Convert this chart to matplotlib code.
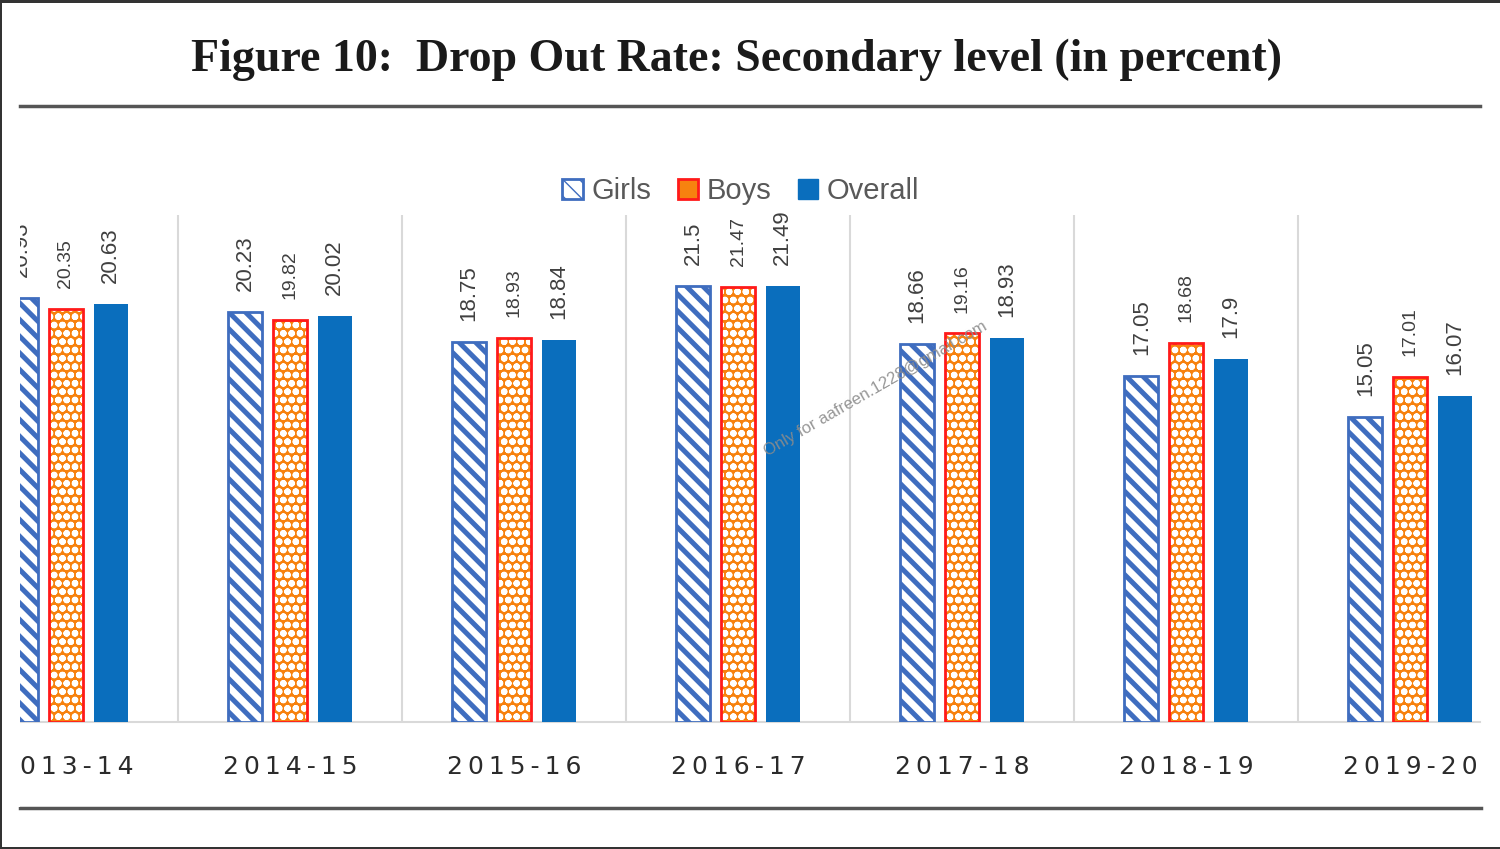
import matplotlib as mpl
import matplotlib.pyplot as plt
from matplotlib.patches import Patch, Rectangle
from matplotlib.lines import Line2D
import numpy as np

years = ['2013-14', '2014-15', '2015-16', '2016-17', '2017-18', '2018-19', '2019-20']
girls = [20.93, 20.23, 18.75, 21.5, 18.66, 17.05, 15.05]
boys = [20.35, 19.82, 18.93, 21.47, 19.16, 18.68, 17.01]
overall = [20.63, 20.02, 18.84, 21.49, 18.93, 17.9, 16.07]

blue_hatch = '#3F6DBF'
orange = '#F7820F'
red = '#FF1A1A'
blue = '#0A6EBD'

fig = plt.figure(figsize=(15, 8.49), dpi=100)
ax = fig.add_axes([20 / 1500, 1 - 722 / 849, 1460 / 1500, 507 / 849])

x = np.arange(len(years))
w = 0.152
off = 0.2

with mpl.rc_context({'hatch.linewidth': 3.6}):
    g = ax.bar(x - off, girls, w, facecolor='white', edgecolor=blue_hatch,
               hatch='\\\\', linewidth=2, zorder=3)
with mpl.rc_context({'hatch.linewidth': 2.3}):
    ax.bar(x, boys, w, facecolor=orange, edgecolor='white', hatch='oo',
           linewidth=0, zorder=3)
b = ax.bar(x, boys, w, facecolor='none', edgecolor=red, linewidth=2, zorder=4)
o = ax.bar(x + off, overall, w, color=blue, zorder=3)

lab_kw = dict(rotation=90, color='#404040', family='Liberation Sans')
ax.bar_label(g, labels=['{:g}'.format(v) for v in girls], padding=15, fontsize=16, **lab_kw)
ax.bar_label(b, labels=['{:g}'.format(v) for v in boys], padding=15, fontsize=14, **lab_kw)
ax.bar_label(o, labels=['{:g}'.format(v) for v in overall], padding=15, fontsize=16, **lab_kw)

ax.set_xlim(-0.205, 6.312)
ax.set_ylim(0, 25)
ax.set_yticks([])
ax.set_xticks(x)
ax.set_xticklabels(['\u2009'.join(y) for y in years], fontsize=18, color='#2B2B2B',
                   family='DejaVu Sans')
ax.tick_params(axis='x', length=0, pad=24)
ax.set_xticks(x[:-1] + 0.5, minor=True)
ax.tick_params(axis='x', which='minor', length=0)
ax.grid(axis='x', which='minor', color='#D9D9D9', linewidth=1.5, zorder=0)
for s in ['top', 'left', 'right']:
    ax.spines[s].set_visible(False)
ax.spines['bottom'].set_color('#D9D9D9')
ax.spines['bottom'].set_linewidth(1.5)

handles = [Patch(facecolor='white', edgecolor=blue_hatch, hatch='\\\\', linewidth=2),
           Patch(facecolor=orange, edgecolor=red, linewidth=2),
           Patch(facecolor=blue, edgecolor=blue)]
fig.legend(handles, ['Girls', 'Boys', 'Overall'], loc='center', ncol=3,
           bbox_to_anchor=(0.494, 1 - 191 / 849), frameon=False,
           handlelength=0.7, handleheight=0.7, handletextpad=0.3, columnspacing=0.9,
           labelcolor='#595959', prop={'family': 'Liberation Sans', 'size': 21})

fig.text(0.491, 1 - 60 / 849, 'Figure 10:  Drop Out Rate: Secondary level (in percent)',
         ha='center', va='center', fontsize=33, fontweight='bold',
         family='Liberation Serif', color='#1A1A1A')

fig.text(0.584, 1 - 389 / 849, 'Only for aafreen.1228@gmail.com', rotation=30,
         ha='center', va='center', fontsize=12, color='#8C8C8C', alpha=0.9,
         family='Liberation Sans', zorder=10)

# rules above and below the chart
fig.add_artist(Line2D([20 / 1500, 1480 / 1500], [1 - 106 / 849] * 2,
                      color='#555555', linewidth=2.5, transform=fig.transFigure))
fig.add_artist(Line2D([20 / 1500, 1481 / 1500], [1 - 808 / 849] * 2,
                      color='#555555', linewidth=2.5, transform=fig.transFigure))

# cropped left margin of the scan
fig.add_artist(Rectangle((2 / 1500, 0.05), 18 / 1500, 0.8, facecolor='white',
                         edgecolor='none', transform=fig.transFigure, zorder=20))
# dark frame of the screenshot
fig.add_artist(Rectangle((0, 1 - 3 / 849), 1, 3 / 849, facecolor='#333333',
                         edgecolor='none', transform=fig.transFigure, zorder=21))
fig.add_artist(Rectangle((0, 0), 2 / 1500, 1, facecolor='#333333',
                         edgecolor='none', transform=fig.transFigure, zorder=21))
fig.add_artist(Rectangle((0, 0), 1, 2 / 849, facecolor='#333333',
                         edgecolor='none', transform=fig.transFigure, zorder=21))

fig.savefig('out.png', dpi=100)
